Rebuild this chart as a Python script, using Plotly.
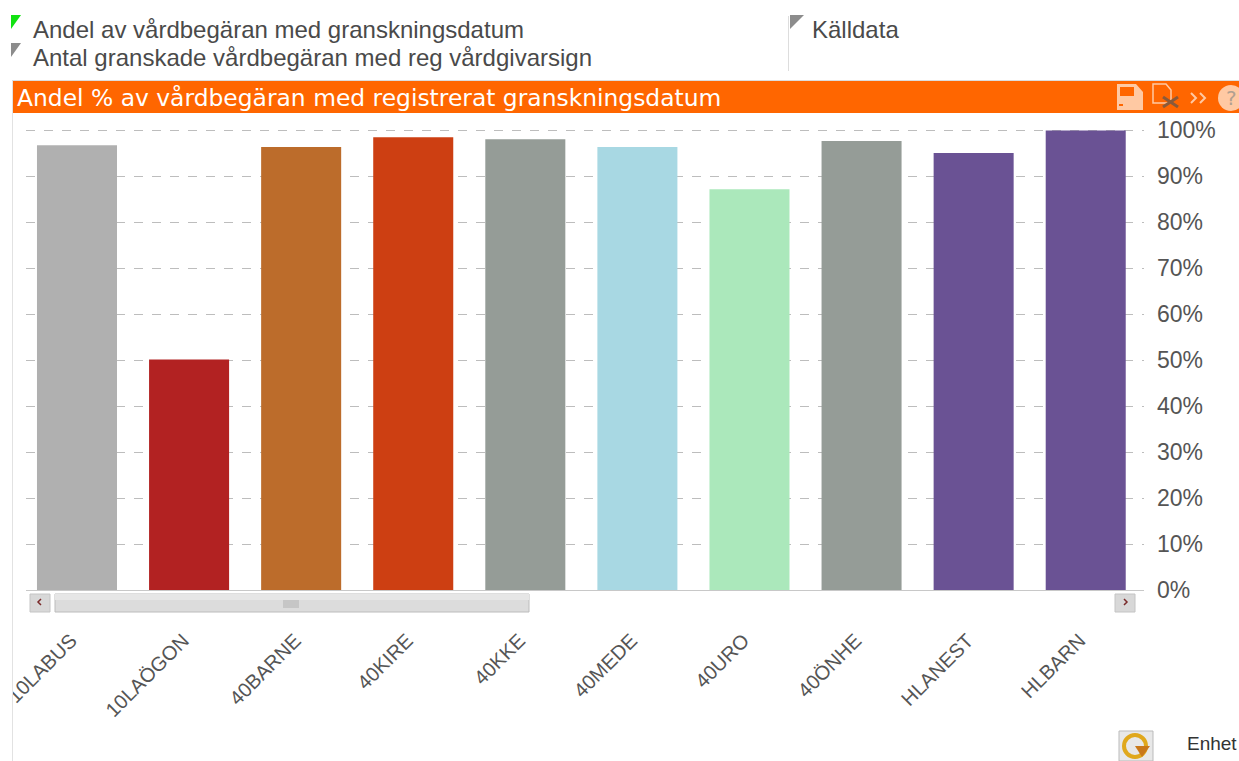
import plotly.graph_objects as go

W, H = 1239, 761

categories = ["10LABUS", "10LAÖGON", "40BARNE", "40KIRE", "40KKE", "40MEDE", "40URO", "40ÖNHE", "HLANEST", "HLBARN"]
values = [96.7, 50.1, 96.3, 98.4, 98.0, 96.3, 87.1, 97.6, 95.0, 99.9]
colors = ["#B0B0B0", "#B22222", "#BC6C2B", "#CD3F12", "#959C97", "#A8D8E3", "#ABE8BB", "#959C97", "#6A5294", "#6A5294"]
y_ticks = [0, 10, 20, 30, 40, 50, 60, 70, 80, 90, 100]
legend_left = ["Andel av vårdbegäran med granskningsdatum", "Antal granskade vårdbegäran med reg vårdgivarsign"]
legend_right = "Källdata"
title_text = "Andel % av vårdbegäran med registrerat granskningsdatum"


def px(x):
    return x / W


def py(y):
    return 1 - y / H


def rect(x0, y0, x1, y1, fill, line=None, layer="above", lw=1):
    return dict(type="rect", xref="paper", yref="paper", x0=px(x0), x1=px(x1), y0=py(y0), y1=py(y1),
                fillcolor=fill, line=dict(color=line or fill, width=lw if line else 0), layer=layer)


def path(points, fill="rgba(0,0,0,0)", line=None, lw=1, closed=True):
    d = "M " + " L ".join(f"{px(a):.5f},{py(b):.5f}" for a, b in points) + (" Z" if closed else "")
    return dict(type="path", xref="paper", yref="paper", path=d, fillcolor=fill,
                line=dict(color=line or fill, width=lw if line else 0), layer="above")


def label(x, y, text, size, color="#4a4a4a", family="Liberation Sans", anchor="left", **kw):
    return dict(xref="paper", yref="paper", x=px(x), y=py(y), text=text, showarrow=False, xanchor=anchor,
                yanchor="middle", align="left", font=dict(size=size, color=color, family=family), **kw)


fig = go.Figure(go.Bar(x=categories, y=values, marker=dict(color=colors, line=dict(width=0)), width=0.714))

shapes = [
    # frame and orange header
    rect(12, 80, 13, 761, "#e2e2e2", layer="below"),
    rect(0, 602, 12, 761, "#ffffff"),
    rect(12, 600, 13, 761, "#e2e2e2"),
    rect(13, 81, 1239, 113, "#FF6600"),
    rect(12, 80, 1239, 81, "#dddddd"),
    rect(788, 16, 789, 71, "#dddddd"),
    # legend flags
    path([(11, 15), (21, 15), (11, 29)], fill="#12E212"),
    path([(11, 43), (21, 43), (11, 57)], fill="#8c8c8c"),
    path([(790, 15), (804, 15), (790, 29)], fill="#8c8c8c"),
    # scrollbar
    rect(30, 594, 50, 612, "#d8d8d8", "#c4c4c4"),
    rect(55, 594, 529, 612, "#dcdcdc", "#bcbcbc"),
    rect(55, 594, 529, 600, "#e6e6e6"),
    rect(283, 600, 299, 608, "#c6c6c6"),
    rect(1115, 594, 1135, 612, "#d8d8d8", "#c4c4c4"),
    path([(41, 599), (38, 602), (41, 605)], line="#7a2a2a", lw=1.5, closed=False),
    path([(1124, 599), (1127, 602), (1124, 605)], line="#7a2a2a", lw=1.5, closed=False),
    # toolbar icons
    path([(1117, 84), (1136, 84), (1143, 92), (1143, 110), (1117, 110)], fill="#FFC9A3"),
    rect(1120, 87, 1134, 96, "#FF6600"),
    rect(1119, 104, 1123, 106, "#FF6600"),
    path([(1153, 84), (1166, 84), (1171, 90), (1171, 103), (1153, 103)], line="#FFC9A3", lw=1.5),
    path([(1163, 97), (1178, 107)], line="#8a5a3a", lw=3, closed=False),
    path([(1178, 97), (1163, 107)], line="#8a5a3a", lw=3, closed=False),
    path([(1191, 93), (1196, 98), (1191, 103)], line="#FFC9A3", lw=2, closed=False),
    path([(1200, 93), (1205, 98), (1200, 103)], line="#FFC9A3", lw=2, closed=False),
    dict(type="circle", xref="paper", yref="paper", x0=px(1218), x1=px(1244), y0=py(111), y1=py(85),
         fillcolor="#FFC9A3", line=dict(width=0), layer="above"),
    # refresh icon
    rect(1119, 731, 1153, 761, "#e8e8e8", "#bbbbbb"),
    dict(type="circle", xref="paper", yref="paper", x0=px(1124), x1=px(1146), y0=py(757), y1=py(735),
         fillcolor="rgba(0,0,0,0)", line=dict(color="#E0A81C", width=4), layer="above"),
    path([(1135, 746), (1150, 746), (1142, 757)], fill="#C9781A"),
]

annotations = [
    label(31, 29, legend_left[0], 24),
    label(31, 57, legend_left[1], 24),
    label(810, 29, legend_right, 24),
    label(15, 98, title_text, 23.4, color="#ffffff", family="DejaVu Sans"),
    label(1185, 743, "Enhet", 19, color="#333333"),
    label(1224, 98, "?", 20, color="#b0a090", family="DejaVu Sans"),
]

fig.update_layout(
    width=W, height=H, margin=dict(l=0, r=0, t=0, b=0, pad=0), autosize=False,
    paper_bgcolor="#ffffff", plot_bgcolor="#ffffff", showlegend=False,
    shapes=shapes, annotations=annotations,
    font=dict(family="Liberation Sans", color="#555555"),
    xaxis=dict(domain=[px(26), px(1144)], range=[-0.455, 9.52], type="category", automargin=False,
               categoryorder="array", categoryarray=categories,
               tickangle=-45, tickfont=dict(size=20, color="#555555"), ticks="", ticklen=0,
               ticklabelstandoff=30, ticklabelshift=-6, showgrid=False, showline=True,
               linecolor="#c8c8c8", linewidth=1, zeroline=False),
    yaxis=dict(domain=[py(590), py(128)], range=[0, 100.435], side="right", tickvals=y_ticks, automargin=False,
               ticktext=[f"{v}%" for v in y_ticks], tickfont=dict(size=23, color="#555555"),
               ticks="", ticklabelstandoff=12, showgrid=True, griddash="dash", gridcolor="#bdbdbd", gridwidth=1,
               zeroline=False, showline=False),
    bargap=0.286,
)

fig.write_html("out.html", config=dict(displayModeBar=False),
               post_script="document.body.style.margin='0';document.body.style.overflow='hidden';")
